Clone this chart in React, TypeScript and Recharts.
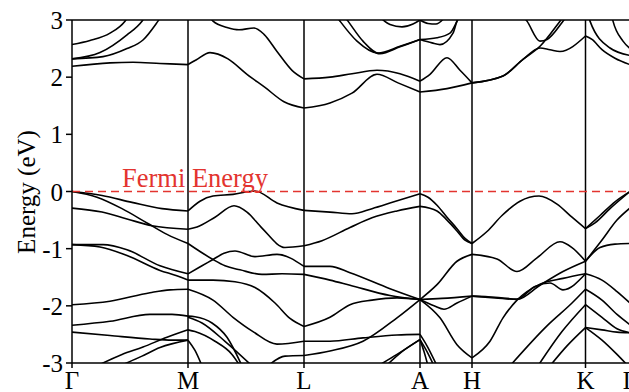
import React from 'react';
import { LineChart, Line, XAxis, YAxis, ReferenceLine } from 'recharts';

// High-symmetry points (k-path distance) and labels
const kPoints = [0, 116, 232, 348, 400, 513.5, 558];
const kLabels = ['Γ', 'M', 'L', 'A', 'H', 'K', 'Γ'];
const energyTicks = [-3, -2, -1, 0, 1, 2, 3];

// Valence bands, segment by segment: [k, E(eV)]
const valenceGM = [
  [[0, 0], [30, -0.07], [60, -0.19], [90, -0.3], [116, -0.34]],
  [[0, -0.29], [30, -0.36], [55, -0.48], [80, -0.6], [116, -0.66]],
  [[0, 0], [25, -0.1], [50, -0.3], [75, -0.55], [95, -0.75], [116, -0.91]],
  [[0, -0.93], [31, -0.93], [55, -1.02], [88, -1.3], [116, -1.44]],
  [[0, -0.93], [28, -0.97], [55, -1.12], [88, -1.38], [104, -1.47], [116, -1.55]],
  [[0, -1.98], [38, -1.92], [78, -1.77], [98, -1.72], [116, -1.71]],
  [[0, -2.34], [38, -2.27], [78, -2.15], [100, -2.15], [116, -2.18]],
  [[0, -2.46], [38, -2.52], [78, -2.58], [100, -2.6], [116, -2.6]],
  [[25, -3.05], [50, -2.85], [71, -2.72], [95, -2.55], [116, -2.42]],
  [[48, -3.05], [70, -2.88], [88, -2.73], [116, -2.6]],
];
const valenceML = [
  [[116, -0.34], [128, -0.17], [141, -0.08], [161, -0.05], [183, 0.01], [205, -0.2], [232, -0.33]],
  [[116, -0.66], [125, -0.62], [143, -0.45], [162, -0.25], [175, -0.36], [190, -0.64], [213, -0.98], [232, -0.95]],
  [[116, -0.91], [128, -1.05], [141, -1.19], [153, -1.3], [168, -1.37], [190, -1.45], [210, -1.44], [232, -1.45]],
  [[116, -1.44], [130, -1.3], [141, -1.19], [152, -1.08], [163, -1.04], [183, -1.14], [205, -1.1], [232, -1.31]],
  [[116, -1.55], [141, -1.55], [163, -1.58], [183, -1.68], [203, -1.95], [218, -2.22], [232, -2.36]],
  [[116, -1.71], [141, -1.9], [161, -2.2], [181, -2.45], [205, -2.67], [232, -2.62]],
  [[116, -2.18], [123, -2.19], [140, -2.3], [155, -2.55], [170, -3.05]],
  [[116, -2.42], [123, -2.45], [143, -2.62], [160, -2.85], [168, -3.05]],
  [[116, -2.2], [130, -2.3], [153, -2.62], [180, -3.05]],
  [[116, -2.6], [123, -2.78], [130, -3.05]],
  [[196, -3.05], [213, -2.88], [232, -2.87]],
];
const valenceLA = [
  [[232, -0.33], [258, -0.36], [280, -0.39], [300, -0.3], [322, -0.18], [348, -0.04]],
  [[232, -0.95], [250, -0.86], [278, -0.63], [300, -0.46], [325, -0.34], [348, -0.26]],
  [[232, -1.31], [258, -1.31], [278, -1.42], [318, -1.7], [348, -1.89]],
  [[232, -1.45], [258, -1.55], [278, -1.64], [318, -1.82], [348, -1.89]],
  [[232, -2.36], [258, -2.2], [278, -1.98], [300, -1.9], [325, -1.86], [348, -1.89]],
  [[232, -2.62], [258, -2.62], [291, -2.56], [325, -2.51], [348, -2.5]],
  [[232, -2.87], [258, -2.79], [291, -2.62], [325, -2.21], [348, -1.89]],
  [[306, -3.05], [325, -2.85], [348, -2.59]],
  [[314, -3.05], [330, -2.8], [348, -2.59]],
];
const valenceAH = [
  [[348, -0.04], [356, -0.1], [365, -0.24], [375, -0.45], [385, -0.65], [393, -0.82], [400, -0.91]],
  [[348, -0.26], [365, -0.34], [375, -0.5], [385, -0.69], [393, -0.85], [400, -0.91]],
  [[348, -1.89], [365, -1.63], [385, -1.22], [400, -1.1]],
  [[348, -1.89], [370, -1.87], [400, -1.83]],
  [[348, -1.89], [362, -2.0], [372, -2.06], [385, -1.95], [400, -1.83]],
  [[348, -1.89], [368, -2.21], [385, -2.68], [400, -2.91]],
  [[348, -2.5], [355, -2.7], [365, -3.05]],
  [[348, -2.59], [355, -2.8], [362, -3.05]],
  [[348, -2.59], [352, -2.8], [356, -3.05]],
];
const valenceHK = [
  [[400, -0.91], [415, -0.7], [430, -0.42], [448, -0.17], [467, -0.08], [485, -0.22], [500, -0.45], [513.5, -0.65]],
  [[400, -1.1], [425, -1.18], [445, -1.4], [465, -1.16], [488, -0.88], [500, -0.98], [513.5, -1.22]],
  [[400, -1.83], [423, -1.86], [445, -1.89], [468, -1.64], [491, -1.4], [513.5, -1.22]],
  [[400, -1.83], [423, -1.85], [445, -1.88], [463, -1.66], [478, -1.6], [491, -1.72], [513.5, -1.44]],
  [[400, -2.91], [418, -2.62], [431, -2.21], [445, -1.9], [468, -1.62], [491, -1.52], [513.5, -1.44]],
  [[438, -3.05], [475, -2.35], [500, -1.95], [513.5, -1.71]],
  [[466, -3.05], [490, -2.45], [513.5, -1.98]],
  [[478, -3.05], [495, -2.7], [513.5, -2.38]],
];
const valenceKG = [
  [[513.5, -0.65], [528, -0.42], [543, -0.18], [558, 0]],
  [[513.5, -0.65], [523, -0.55], [538, -0.3], [558, 0]],
  [[513.5, -1.22], [528, -0.98], [543, -0.92], [558, -0.91]],
  [[513.5, -1.22], [530, -0.85], [545, -0.5], [558, -0.29]],
  [[513.5, -1.44], [530, -1.55], [545, -1.75], [558, -1.95]],
  [[513.5, -1.71], [530, -1.9], [545, -2.15], [558, -2.33]],
  [[513.5, -1.98], [530, -2.2], [545, -2.4], [558, -2.47]],
  [[513.5, -2.38], [530, -2.42], [545, -2.46], [558, -2.47]],
  [[513.5, -2.38], [530, -2.6], [545, -2.85], [556, -3.05]],
];

// Conduction bands
const conductionGM = [
  [[0, 2.19], [38, 2.25], [61, 2.26], [88, 2.24], [116, 2.22]],
  [[0, 2.32], [31, 2.36], [55, 2.5], [71, 2.65], [86, 2.98], [90, 3.08]],
  [[0, 2.32], [28, 2.43], [55, 2.74], [70, 2.98], [74, 3.08]],
  [[0, 2.57], [18, 2.64], [38, 2.77], [53, 2.98], [57, 3.08]],
];
const conductionML = [
  [[116, 2.22], [124, 2.3], [138, 2.43], [156, 2.32], [175, 2.05], [193, 1.82], [212, 1.57], [232, 1.46]],
  [[138, 3.05], [141, 2.98], [155, 2.87], [167, 2.83], [182, 2.86], [192, 2.75], [205, 2.45], [220, 2.12], [232, 1.97]],
];
const conductionLA = [
  [[232, 1.97], [258, 2.0], [280, 2.06], [305, 2.12], [328, 2.06], [348, 1.93]],
  [[232, 1.46], [258, 1.55], [280, 1.72], [305, 2.05], [326, 1.9], [348, 1.74]],
  [[265, 3.05], [268, 2.98], [285, 2.63], [306, 2.42], [328, 2.54], [348, 2.66]],
  [[273, 3.05], [276, 2.98], [291, 2.63], [308, 2.41], [328, 2.53], [348, 2.66]],
  [[308, 3.05], [318, 2.92], [330, 2.88], [341, 2.93], [348, 3.0]],
];
const conductionAH = [
  [[348, 1.93], [358, 2.05], [375, 2.34], [388, 2.12], [400, 1.9]],
  [[348, 1.74], [375, 1.8], [400, 1.9]],
  [[348, 2.66], [365, 2.69], [378, 2.77], [385, 2.98], [387, 3.05]],
  [[348, 2.66], [360, 2.6], [368, 2.57], [381, 2.77], [385, 2.98], [387, 3.05]],
  [[348, 3.0], [356, 2.94], [364, 2.93], [373, 3.05]],
];
const conductionHK = [
  [[400, 1.9], [431, 2.02], [451, 2.31], [468, 2.51], [478, 2.48], [488, 2.45], [513.5, 2.72]],
  [[400, 1.9], [431, 2.02], [451, 2.31], [468, 2.54], [488, 2.98], [491, 3.05]],
  [[452, 3.05], [455, 2.98], [468, 2.63], [475, 2.66], [491, 2.98], [494, 3.05]],
];
const conductionKG = [
  [[513.5, 2.72], [520, 2.66], [530, 2.48], [543, 2.33], [558, 2.22]],
  [[517, 3.05], [518, 2.98], [538, 2.51], [558, 2.38]],
  [[540, 3.05], [541, 2.98], [551, 2.63], [558, 2.5]],
];

const allBands = [
  ...valenceGM, ...valenceML, ...valenceLA, ...valenceAH, ...valenceHK, ...valenceKG,
  ...conductionGM, ...conductionML, ...conductionLA, ...conductionAH, ...conductionHK, ...conductionKG,
];

const FONT = '"Liberation Serif", "DejaVu Serif", serif';
const RED = '#e3342f';

const FermiLabel = (props: any) => {
  const vb = props.viewBox || {};
  return (
    <text x={(vb.x || 0) + 50} y={(vb.y || 0) - 5} fill={RED} fontSize={26.5} fontFamily={FONT} style={{ fontFamily: FONT }}>
      Fermi Energy
    </text>
  );
};

const EnergyLabel = () => (
  <text transform="translate(26,192) rotate(-90)" textAnchor="middle" dominantBaseline="central" fontSize={25} fontFamily={FONT} style={{ fontFamily: FONT }} fill="#000">
    Energy (eV)
  </text>
);

const YTick = (props: any) => {
  const { x, y, payload } = props;
  return (
    <text x={x} y={y} dy="0.36em" textAnchor="end" fontSize={25} fontFamily={FONT} style={{ fontFamily: FONT }} fill="#000">
      {String(payload.value)}
    </text>
  );
};

const XTick = (props: any) => {
  const { x, y, payload } = props;
  const idx = kPoints.indexOf(payload.value);
  return (
    <text x={x} y={y} dy="0.72em" textAnchor="middle" fontSize={25} fontFamily={FONT} style={{ fontFamily: FONT }} fill="#000">
      {kLabels[idx] ?? ''}
    </text>
  );
};

export default function App() {
  return (
    <div style={{ position: 'absolute', left: 0, top: 0, width: 629, height: 392, overflow: 'hidden', background: '#fff', fontFamily: FONT }}>
      <LineChart width={640} height={392} margin={{ top: 20, right: 10, bottom: 0, left: 0 }}>
        <XAxis
          type="number"
          dataKey="k"
          domain={[0, 558]}
          allowDataOverflow
          ticks={kPoints}
          height={29}
          tickSize={5}
          tickMargin={3}
          interval={0}
          stroke="#000"
          strokeWidth={1.5}
          tick={<XTick />}
        />
        <YAxis
          type="number"
          domain={[-3, 3]}
          allowDataOverflow
          ticks={energyTicks}
          width={72}
          tickSize={6}
          tickMargin={3}
          interval={0}
          stroke="#000"
          strokeWidth={1.5}
          tick={<YTick />}
          label={<EnergyLabel />}
        />
        <ReferenceLine y={3} stroke="#000" strokeWidth={1.5} />
        {kPoints.slice(1).map((k) => (
          <ReferenceLine key={'v' + k} x={k} stroke="#000" strokeWidth={1.5} />
        ))}
        {allBands.map((band, i) => (
          <Line
            key={'b' + i}
            data={band.map(([k, e]) => ({ k, e }))}
            dataKey="e"
            type="monotone"
            stroke="#000"
            strokeWidth={1.6}
            dot={false}
            activeDot={false}
            isAnimationActive={false}
          />
        ))}
        <ReferenceLine y={0} stroke={RED} strokeWidth={1.5} strokeDasharray="8 5" label={<FermiLabel />} />
      </LineChart>
    </div>
  );
}
